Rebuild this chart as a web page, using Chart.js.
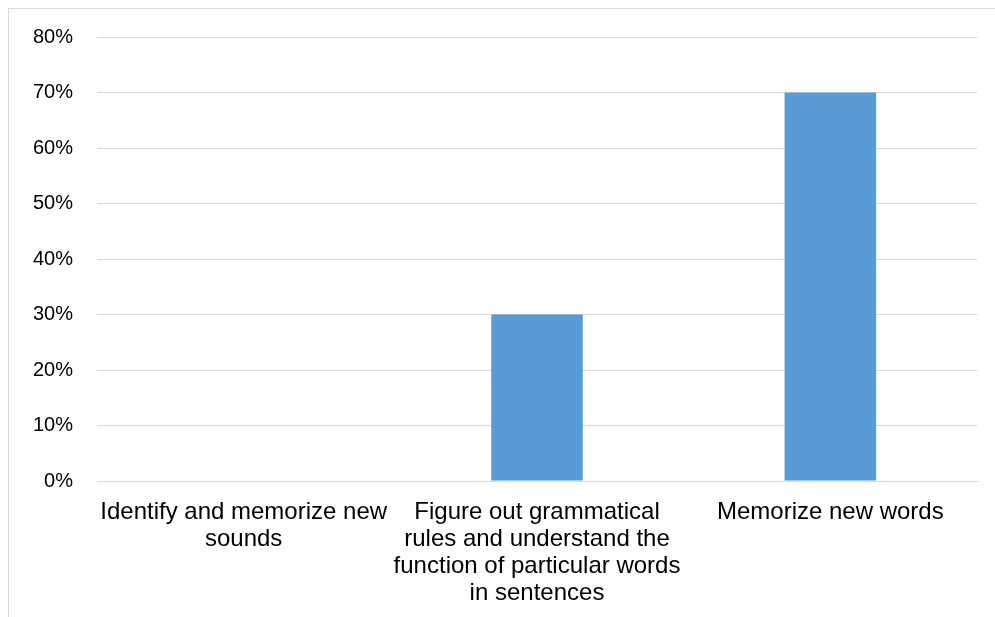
<!DOCTYPE html>
<html>
<head>
<meta charset="utf-8">
<script src="https://cdn.jsdelivr.net/npm/chart.js@4/dist/chart.umd.min.js"></script>
<style>
  html, body { margin: 0; padding: 0; background: #fff; }
  #wrap { position: relative; width: 995px; height: 617px; overflow: hidden; }
  #frame { position: absolute; left: 8px; top: 8px; width: 1000px; height: 700px;
           border-left: 1px solid #d9d9d9; border-top: 1px solid #d9d9d9; }
  #c { position: absolute; left: 0; top: 0; }
</style>
</head>
<body>
<div id="wrap">
  <div id="frame"></div>
  <canvas id="c" width="995" height="617"></canvas>
</div>
<script>
// Learning strategies and the share of respondents using each
const categories = [
  ["Identify and memorize new", "sounds"],
  ["Figure out grammatical", "rules and understand the", "function of particular words", "in sentences"],
  ["Memorize new words"]
];
const shares = [0, 0.30, 0.70];
const yTicks = [0, 0.1, 0.2, 0.3, 0.4, 0.5, 0.6, 0.7, 0.8];

const gridColor = '#d9d9d9';
const barColor = '#5b9bd5';

new Chart(document.getElementById('c'), {
  type: 'bar',
  data: {
    labels: categories,
    datasets: [{
      data: shares,
      backgroundColor: barColor,
      borderWidth: 0,
      categoryPercentage: 1,
      barPercentage: 0.312
    }]
  },
  options: {
    responsive: false,
    animation: false,
    layout: { padding: { top: 37, right: 18, bottom: 0, left: 0 } },
    plugins: { legend: { display: false }, tooltip: { enabled: false } },
    scales: {
      x: {
        grid: { display: false, drawTicks: false },
        border: { display: true, color: gridColor, width: 1 },
        ticks: {
          color: '#000',
          font: { family: '"Liberation Sans", Arial, sans-serif', size: 24, lineHeight: '27px' },
          padding: 18,
          maxRotation: 0,
          autoSkip: false
        },
        afterFit: (s) => { s.height = 136; }
      },
      y: {
        min: 0,
        max: 0.8,
        afterBuildTicks: (s) => { s.ticks = yTicks.map(v => ({ value: v })); },
        grid: { color: gridColor, lineWidth: 1, drawTicks: false },
        border: { display: false },
        ticks: {
          color: '#000',
          font: { family: '"Liberation Sans", Arial, sans-serif', size: 20 },
          padding: 24,
          callback: (v) => Math.round(v * 100) + '%'
        },
        afterFit: (s) => { s.width = 97; }
      }
    }
  }
});
</script>
</body>
</html>
